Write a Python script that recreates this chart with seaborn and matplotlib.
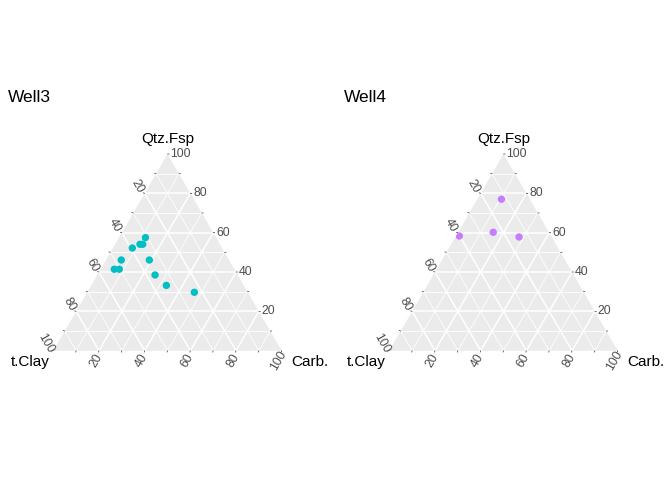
import numpy as np
import pandas as pd
import matplotlib
matplotlib.use('Agg')
import matplotlib.pyplot as plt
from matplotlib.patches import Polygon
import seaborn as sns

# Ternary composition (%) for each well: top = Qtz.Fsp, left = t.Clay, right = Carb.
well3_qtz = [57.5, 54.1, 54.1, 52.2, 46.1, 46.1, 41.4, 41.4, 38.5, 33.2, 29.7]
well3_clay = [30.9, 33.8, 35.0, 39.3, 47.2, 34.9, 52.6, 50.4, 36.2, 33.9, 23.4]
well3_carb = [11.6, 12.1, 10.9, 8.5, 6.7, 19.0, 6.0, 8.2, 25.3, 32.9, 46.9]

well4_qtz = [77.0, 60.2, 57.8, 58.3]
well4_clay = [12.4, 24.4, 14.3, 40.2]
well4_carb = [10.6, 15.4, 27.9, 1.5]

wells = ['Well3', 'Well4']
colors = ['#00BFC4', '#C77CFF']
tick_values = [20, 40, 60, 80, 100]

plt.rcParams['font.family'] = ['Liberation Sans', 'DejaVu Sans']

W, H = 672, 480


def tern_xy(top, left, right):
    top, left, right = (np.asarray(v, dtype=float) for v in (top, left, right))
    tot = top + left + right
    y = top / tot
    x = (right + top / 2) / tot
    return x, y


def tick(ax, x, y, dx, dy):
    ax.annotate('', xy=(x, y), xytext=(dx, dy), textcoords='offset pixels',
                arrowprops=dict(arrowstyle='-', lw=0.5, color='#333333',
                                shrinkA=0, shrinkB=0), annotation_clip=False)


def draw_panel(fig, x0, title, df, color):
    # triangle bounding box in pixels
    bl_x, br_x = x0, x0 + 228.4
    top_y, base_y = 154.0, 350.7
    ax = fig.add_axes([bl_x / W, (H - base_y) / H, (br_x - bl_x) / W, (base_y - top_y) / H])
    ax.set_xlim(0, 1)
    ax.set_ylim(0, 1)

    tri = Polygon([[0, 0], [1, 0], [0.5, 1]], closed=True, fc='#EBEBEB', ec='none', zorder=0)
    ax.add_patch(tri)

    # grid
    for v in range(10, 100, 10):
        lw = 1.1 if v % 20 == 0 else 0.6
        segs = [
            tern_xy([v, v], [100 - v, 0], [0, 100 - v]),
            tern_xy([100 - v, 0], [v, v], [0, 100 - v]),
            tern_xy([100 - v, 0], [0, 100 - v], [v, v]),
        ]
        for xs, ys in segs:
            ax.plot(xs, ys, color='white', lw=lw, zorder=1, solid_capstyle='butt')

    # ticks and tick labels
    for v in range(10, 101, 10):
        x, y = tern_xy(v, 0, 100 - v)        # right edge: Qtz.Fsp
        x2, y2 = tern_xy(100 - v, v, 0)      # left edge: t.Clay
        x3, y3 = tern_xy(0, 100 - v, v)      # bottom edge: Carb.
        tick(ax, x, y, 1.5, 0)
        tick(ax, x2, y2, -1.5, 0.5)
        tick(ax, x3, y3, -0.5, -1.5)
        if v in tick_values:
            lab = str(v)
            ax.annotate(lab, xy=(x, y), xytext=(3, 0), textcoords='offset pixels',
                        ha='left', va='center', fontsize=8.8, color='#4D4D4D',
                        annotation_clip=False)
            ax.annotate(lab, xy=(x2, y2), xytext=(-7, 7), textcoords='offset pixels',
                        ha='center', va='center', fontsize=8.8, color='#4D4D4D',
                        rotation=-60, annotation_clip=False)
            ax.annotate(lab, xy=(x3, y3), xytext=(-3, -10), textcoords='offset pixels',
                        ha='center', va='center', fontsize=8.8, color='#4D4D4D',
                        rotation=60, annotation_clip=False)

    # axis titles
    ax.annotate('Qtz.Fsp', xy=(0.5, 1), xytext=(0, 8), textcoords='offset pixels',
                ha='center', va='bottom', fontsize=11, annotation_clip=False)
    ax.annotate('t.Clay', xy=(0, 0), xytext=(-4, -11), textcoords='offset pixels',
                ha='right', va='center', fontsize=11, annotation_clip=False)
    ax.annotate('Carb.', xy=(1, 0), xytext=(10, -11), textcoords='offset pixels',
                ha='left', va='center', fontsize=11, annotation_clip=False)

    # points
    sns.scatterplot(data=df, x='x', y='y', color=color, s=28, edgecolor='none',
                    legend=False, ax=ax, zorder=3)
    ax.collections[-1].set_clip_path(tri)
    ax.set_xlabel('')
    ax.set_ylabel('')
    ax.axis('off')

    fig.text((x0 - 45.3) / W, (H - 97) / H, title, ha='left', va='center', fontsize=12.5)


def make_df(top, left, right):
    x, y = tern_xy(top, left, right)
    return pd.DataFrame({'x': x, 'y': y})


fig = plt.figure(figsize=(W / 100, H / 100), dpi=100)
draw_panel(fig, 53.3, wells[0], make_df(well3_qtz, well3_clay, well3_carb), colors[0])
draw_panel(fig, 389.3, wells[1], make_df(well4_qtz, well4_clay, well4_carb), colors[1])
fig.savefig('out.png', dpi=100)
